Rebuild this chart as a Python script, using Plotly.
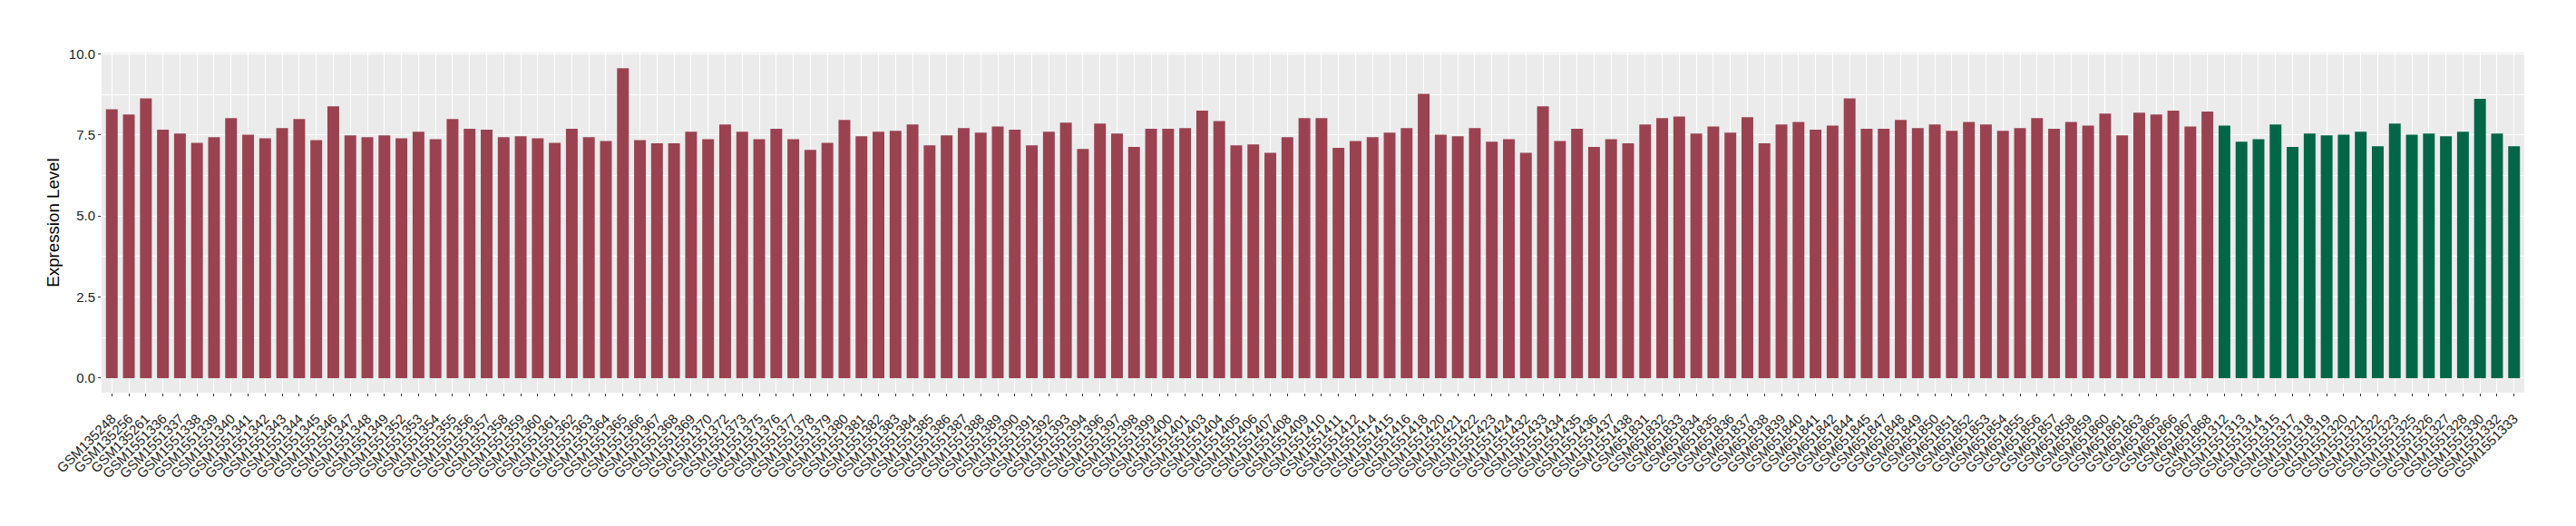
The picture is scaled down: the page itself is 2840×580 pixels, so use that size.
import plotly.graph_objects as go

# Red group samples
red_labels = [
    "GSM135248", "GSM135256", "GSM135261",
    "GSM1551336", "GSM1551337", "GSM1551338", "GSM1551339", "GSM1551340", "GSM1551341",
    "GSM1551342", "GSM1551343", "GSM1551344", "GSM1551345", "GSM1551346", "GSM1551347",
    "GSM1551348", "GSM1551349", "GSM1551352", "GSM1551353", "GSM1551354", "GSM1551355",
    "GSM1551356", "GSM1551357", "GSM1551358", "GSM1551359", "GSM1551360", "GSM1551361",
    "GSM1551362", "GSM1551363", "GSM1551364", "GSM1551365", "GSM1551366", "GSM1551367",
    "GSM1551368", "GSM1551369", "GSM1551370", "GSM1551372", "GSM1551373", "GSM1551375",
    "GSM1551376", "GSM1551377", "GSM1551378", "GSM1551379", "GSM1551380", "GSM1551381",
    "GSM1551382", "GSM1551383", "GSM1551384", "GSM1551385", "GSM1551386", "GSM1551387",
    "GSM1551388", "GSM1551389", "GSM1551390", "GSM1551391", "GSM1551392", "GSM1551393",
    "GSM1551394", "GSM1551396", "GSM1551397", "GSM1551398", "GSM1551399", "GSM1551400",
    "GSM1551401", "GSM1551403", "GSM1551404", "GSM1551405", "GSM1551406", "GSM1551407",
    "GSM1551408", "GSM1551409", "GSM1551410", "GSM1551411", "GSM1551412", "GSM1551414",
    "GSM1551415", "GSM1551416", "GSM1551418", "GSM1551420", "GSM1551421", "GSM1551422",
    "GSM1551423", "GSM1551424", "GSM1551432", "GSM1551433", "GSM1551434", "GSM1551435",
    "GSM1551436", "GSM1551437", "GSM1551438",
    "GSM651831", "GSM651832", "GSM651833", "GSM651834", "GSM651835", "GSM651836",
    "GSM651837", "GSM651838", "GSM651839", "GSM651840", "GSM651841", "GSM651842",
    "GSM651844", "GSM651845", "GSM651847", "GSM651848", "GSM651849", "GSM651850",
    "GSM651851", "GSM651852", "GSM651853", "GSM651854", "GSM651855", "GSM651856",
    "GSM651857", "GSM651858", "GSM651859", "GSM651860", "GSM651861", "GSM651863",
    "GSM651865", "GSM651866", "GSM651867", "GSM651868",
]
red_values = [
    8.29, 8.13, 8.63,
    7.66, 7.54, 7.26, 7.43, 8.02, 7.51,
    7.40, 7.71, 7.99, 7.34, 8.38, 7.49,
    7.43, 7.49, 7.40, 7.60, 7.37, 7.99,
    7.69, 7.66, 7.43, 7.46, 7.40, 7.26,
    7.69, 7.43, 7.31, 9.56, 7.34, 7.24,
    7.24, 7.60, 7.37, 7.82, 7.60, 7.37,
    7.69, 7.37, 7.04, 7.26, 7.96, 7.46,
    7.60, 7.63, 7.82, 7.18, 7.49, 7.71,
    7.57, 7.76, 7.66, 7.18, 7.60, 7.88,
    7.07, 7.85, 7.54, 7.13, 7.69, 7.69,
    7.71, 8.25, 7.93, 7.18, 7.21, 6.95,
    7.43, 8.02, 8.02, 7.10, 7.31, 7.43,
    7.57, 7.71, 8.77, 7.51, 7.46, 7.71,
    7.29, 7.37, 6.95, 8.38, 7.31, 7.69,
    7.13, 7.37, 7.24,
    7.82, 8.02, 8.07, 7.54, 7.76, 7.57,
    8.05, 7.24, 7.82, 7.90, 7.66, 7.79,
    8.63, 7.69, 7.69, 7.96, 7.71, 7.82,
    7.63, 7.90, 7.82, 7.63, 7.71, 8.02,
    7.69, 7.90, 7.79, 8.16, 7.49, 8.19,
    8.13, 8.25, 7.76, 8.22,
]

# Green group samples
green_labels = [
    "GSM1551312", "GSM1551313", "GSM1551314", "GSM1551315", "GSM1551317", "GSM1551318",
    "GSM1551319", "GSM1551320", "GSM1551321", "GSM1551322", "GSM1551323", "GSM1551325",
    "GSM1551326", "GSM1551327", "GSM1551328", "GSM1551330", "GSM1551332", "GSM1551333",
]
green_values = [
    7.79, 7.29, 7.37, 7.82, 7.13, 7.54,
    7.49, 7.51, 7.60, 7.15, 7.85, 7.51,
    7.54, 7.46, 7.60, 8.61, 7.54, 7.15,
]

y_ticks = [0.0, 2.5, 5.0, 7.5, 10.0]
y_title = "Expression Level"

all_labels = red_labels + green_labels
n = len(all_labels)

FONT = "Liberation Sans, Arial, Helvetica, sans-serif"

fig = go.Figure()
fig.add_trace(go.Bar(x=red_labels, y=red_values, marker=dict(color="#9B4251", line=dict(width=0)),
                     showlegend=False))
fig.add_trace(go.Bar(x=green_labels, y=green_values, marker=dict(color="#036747", line=dict(width=0)),
                     showlegend=False))

fig.update_layout(
    width=2840, height=580,
    margin=dict(l=112, r=57, t=58, b=147, autoexpand=False),
    paper_bgcolor="white",
    plot_bgcolor="#EBEBEB",
    barmode="overlay",
    bargap=0.31,
    font=dict(family=FONT, size=15, color="#333333"),
    xaxis=dict(
        type="category",
        categoryorder="array", categoryarray=all_labels,
        range=[-0.6, n - 1 + 0.6],
        tickmode="array", tickvals=all_labels, ticktext=all_labels,
        tickangle=-45,
        ticklabelstandoff=10,
        showgrid=True, gridcolor="white", gridwidth=1,
        ticks="outside", ticklen=3, tickwidth=1, tickcolor="#333333",
        tickfont=dict(family=FONT, size=15, color="#222222"),
        showline=False, zeroline=False,
    ),
    yaxis=dict(
        range=[-0.45, 10.04],
        tickvals=y_ticks,
        ticktext=["%.1f" % v for v in y_ticks],
        showgrid=True, gridcolor="white", gridwidth=1.3,
        minor=dict(showgrid=True, gridcolor="white", gridwidth=0.6, tick0=0, dtick=1.25, ticks=""),
        ticks="outside", ticklen=3, tickwidth=1, tickcolor="#333333",
        tickfont=dict(family=FONT, size=15, color="#222222"),
        zeroline=False, showline=False,
        title=dict(text=y_title, font=dict(family=FONT, size=18.7, color="black"), standoff=5),
    ),
)

fig.write_html("out.html", config={"displayModeBar": False},
               post_script="document.body.style.margin='0';document.body.style.overflow='hidden';")
